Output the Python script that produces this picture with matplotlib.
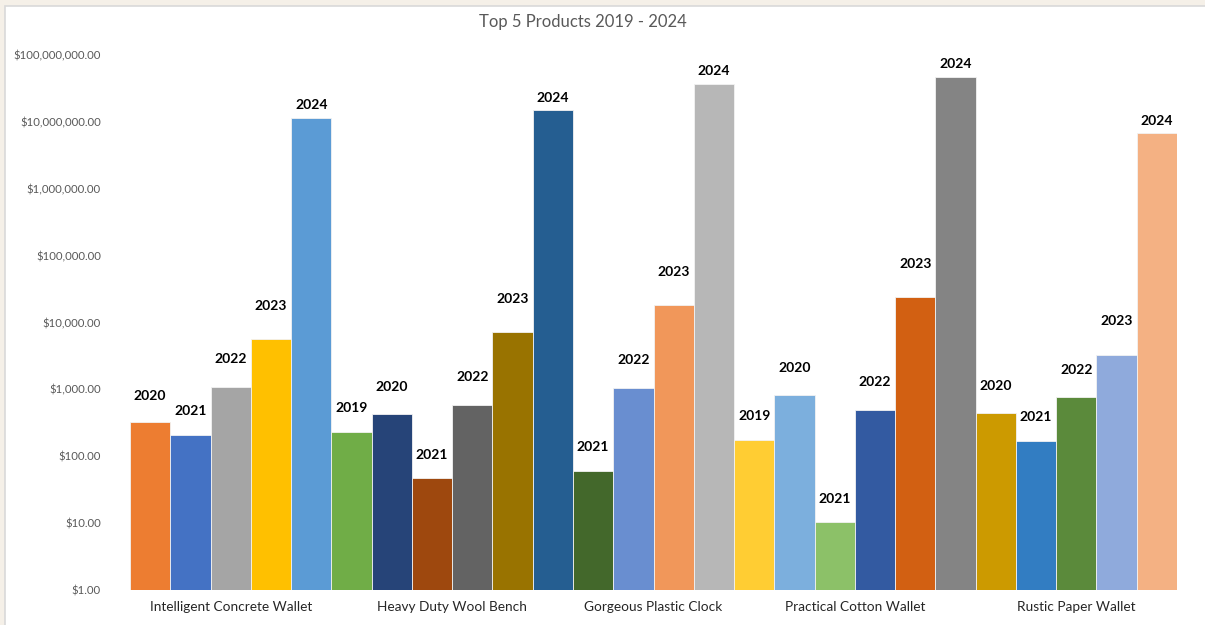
import matplotlib
matplotlib.use("Agg")
import matplotlib.pyplot as plt
from matplotlib.patches import Rectangle
from matplotlib.ticker import FuncFormatter, FixedLocator, NullLocator
import numpy as np

plt.rcParams['font.family'] = ['Lato', 'DejaVu Sans']

# products, one group each, and the years present in each group
products = ["Intelligent Concrete Wallet", "Heavy Duty Wool Bench",
            "Gorgeous Plastic Clock", "Practical Cotton Wallet",
            "Rustic Paper Wallet"]
years = [
    [2020, 2021, 2022, 2023, 2024],
    [2019, 2020, 2021, 2022, 2023, 2024],
    [2021, 2022, 2023, 2024],
    [2019, 2020, 2021, 2022, 2023, 2024],
    [2020, 2021, 2022, 2023, 2024],
]
sales = [
    [320, 210, 1100, 5600, 11500000],
    [230, 430, 47, 580, 7200, 15000000],
    [60, 1050, 18000, 37000000],
    [175, 830, 10.3, 490, 24000, 47000000],
    [450, 170, 760, 3300, 6800000],
]

# excel-ish palette, one colour per bar
colors = ["#ED7D31", "#4472C4", "#A5A5A5", "#FFC000", "#5B9BD5",
          "#70AD47", "#264478", "#9E480E", "#636363", "#997300", "#255E91",
          "#43682B", "#698ED0", "#F1975A", "#B7B7B7",
          "#FFCD33", "#7CAFDD", "#8CC168", "#335AA1", "#D26012", "#848484",
          "#CC9A00", "#327DC2", "#5B8A3B", "#8FAADC", "#F4B183"]

# how far above the bar top each year label sits (points)
label_pad = {2019: 17, 2020: 19, 2021: 17, 2022: 20, 2023: 24, 2024: 9}

fig = plt.figure(figsize=(12.05, 6.25), dpi=100, facecolor="#F5F0E8")
fig.patches.append(Rectangle((5 / 1205, -0.01), 1.0, 1 - 6 / 625 + 0.01,
                             transform=fig.transFigure, facecolor="white",
                             edgecolor="#D9D9D9", linewidth=1.2, zorder=-10))

ax = fig.add_axes([130 / 1205, 1 - 590 / 625, 1047 / 1205, 535 / 625])
ax.set_facecolor("none")

pos = 0
centers = []
for g, (yrs, vals) in enumerate(zip(years, sales)):
    xs = np.arange(pos, pos + len(vals))
    centers.append(xs.mean())
    for x, y, v in zip(xs, yrs, vals):
        ax.bar(x, v - 1, bottom=1, width=1.0, color=colors[x],
               edgecolor="#F2F2F2", linewidth=0.6)
        ax.annotate(str(y), (x, v), xytext=(0, label_pad[y]),
                    textcoords="offset points", ha="center", va="center",
                    fontsize=10, fontweight="bold", color="black")
    pos += len(vals)

ax.set_yscale("log")
ax.set_ylim(1, 1e8)
ax.set_xlim(-0.5, pos - 0.5)
ax.yaxis.set_major_locator(FixedLocator([10 ** k for k in range(9)]))
ax.yaxis.set_minor_locator(NullLocator())
ax.yaxis.set_major_formatter(FuncFormatter(lambda v, p: "${:,.2f}".format(v)))
ax.set_xticks(centers)
ax.set_xticklabels(products)
ax.tick_params(axis="y", length=0, labelsize=8.2, labelcolor="#595959", pad=21)
ax.tick_params(axis="x", length=0, labelsize=9.8, labelcolor="#262626", pad=8)
for s in ax.spines.values():
    s.set_visible(False)

fig.text(583 / 1205, 1 - 22 / 625, "Top 5 Products 2019 - 2024",
         ha="center", va="center", fontsize=12, color="#595959")

fig.savefig("out.png", dpi=100, facecolor=fig.get_facecolor())
